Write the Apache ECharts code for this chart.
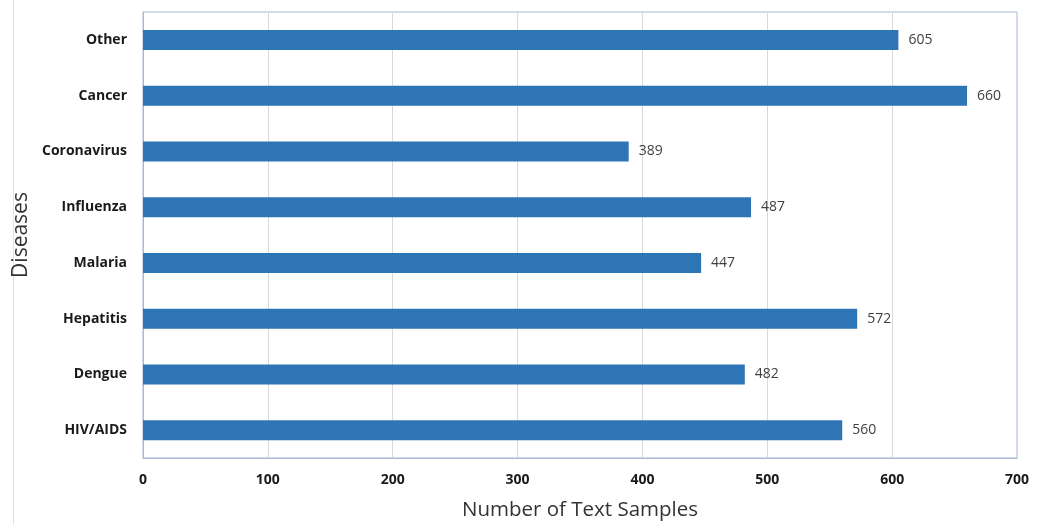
<!DOCTYPE html>
<html>
<head>
<meta charset="utf-8">
<style>
  html, body { margin: 0; padding: 0; background: #ffffff; }
  #chart { width: 1047px; height: 525px; }
</style>
<script src="https://cdn.jsdelivr.net/npm/echarts@6/dist/echarts.min.js"></script>
</head>
<body>
<div id="chart"></div>
<script>
// Diseases, listed bottom to top as drawn on the category axis
const diseases = ['HIV/AIDS', 'Dengue', 'Hepatitis', 'Malaria', 'Influenza', 'Coronavirus', 'Cancer', 'Other'];
// Number of text samples per disease
const sampleCounts = [560, 482, 572, 447, 487, 389, 660, 605];

const chart = echarts.init(document.getElementById('chart'));

chart.setOption({
  animation: false,
  backgroundColor: '#ffffff',
  textStyle: { fontFamily: '"Open Sans", "Noto Sans", sans-serif' },
  grid: {
    left: 143, top: 12, width: 874, height: 446,
    outerBoundsMode: 'none',
    containLabel: false,
    show: true, borderColor: '#a7b9d3', borderWidth: 1, backgroundColor: 'transparent'
  },
  graphic: [{
    type: 'line',
    shape: { x1: 13.5, y1: 0, x2: 13.5, y2: 525 },
    style: { stroke: '#e2e2e2', lineWidth: 1 },
    silent: true
  }],
  xAxis: {
    type: 'value',
    min: 0, max: 700, interval: 100,
    name: 'Number of Text Samples',
    nameLocation: 'middle',
    nameGap: 42,
    nameTextStyle: { fontSize: 20.5, color: '#333333' },
    axisLine: { show: true, lineStyle: { color: '#a7b9d3' } },
    axisTick: { show: false },
    axisLabel: { fontSize: 14, fontWeight: 'bold', color: '#1a1a1a', margin: 15 },
    splitLine: { show: true, lineStyle: { color: '#d9d9d9' } }
  },
  yAxis: {
    type: 'category',
    data: diseases,
    name: 'Diseases',
    nameLocation: 'middle',
    nameGap: 103,
    nameRotate: 90,
    nameTextStyle: { fontSize: 21, color: '#333333' },
    axisLine: { show: true, lineStyle: { color: '#a7b9d3' } },
    axisTick: { show: false },
    axisLabel: { fontSize: 14, fontWeight: 'bold', color: '#1a1a1a', margin: 16 },
    splitLine: { show: false }
  },
  series: [{
    type: 'bar',
    data: sampleCounts,
    barWidth: 20,
    itemStyle: { color: '#2e75b6' },
    label: {
      show: true,
      position: 'right',
      distance: 10,
      fontSize: 14,
      color: '#404040'
    }
  }]
});
</script>
</body>
</html>
